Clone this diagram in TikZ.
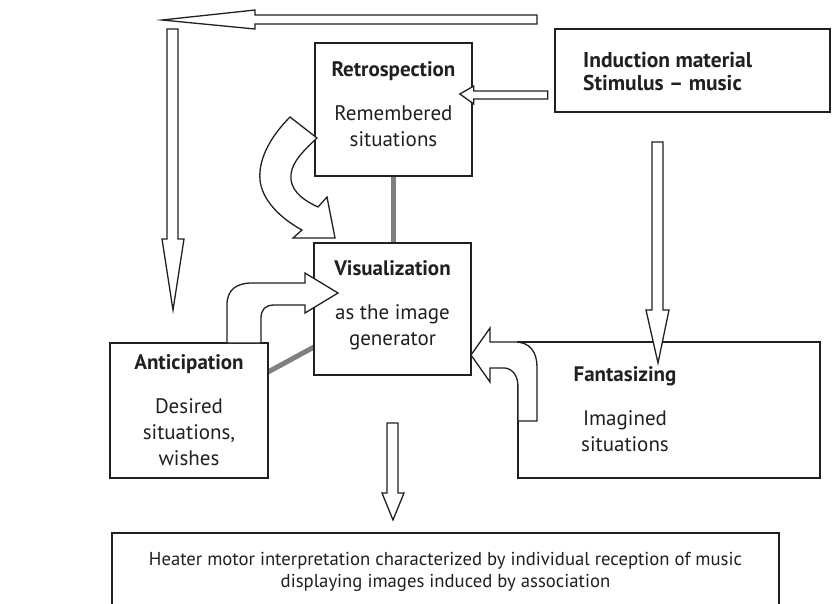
\documentclass[tikz,border=0pt]{standalone}
\usepackage{fontspec}
\setmainfont{PT Sans}
\usetikzlibrary{positioning, calc}
\definecolor{mydark}{RGB}{35,31,32}
\definecolor{mygray}{RGB}{128,128,128}
\tikzset{
  box/.style={rectangle, draw=mydark, fill=white, line width=1.6pt, align=center,
    inner sep=0pt, text=mydark, font=\fontsize{21}{26}\selectfont},
  txt/.style={text=mydark, align=center, inner sep=0pt, font=\fontsize{21}{26}\selectfont},
  blockarrow/.style={draw=mydark, fill=white, line width=1.3pt, line join=miter},
  link/.style={draw=mygray, line width=5pt}
}
\begin{document}
\begin{tikzpicture}[x=1pt, y=-1pt]
  \useasboundingbox (0,0) rectangle (838,603);
  % gray links behind the boxes
  \coordinate (linkA) at (393,176);
  \coordinate (linkB) at (393,243);
  \draw[link] (linkA) -- (linkB);
  \draw[link] (268,372) -- (314,347);
  % Boxes
  \node[box, minimum width=157, minimum height=133, text depth=10pt] (retro) at (393.5,109.5)
    {\textbf{Retrospection}\\[18pt]Remembered\\situations};
  \node[box, minimum width=157, minimum height=132, text depth=11pt] (vis) at (392.5,309)
    {\textbf{Visualization}\\[18pt]as the image\\generator};
  \node[box, minimum width=158, minimum height=135] (antic) at (189,410.5)
    {\textbf{Anticipation}\\[18pt]Desired\\situations,\\wishes};
  \node[box, minimum width=302, minimum height=136] (fan) at (669,410) {};
  \node[txt] (fantxt) at (625,409.5) {\textbf{Fantasizing}\\[18pt]Imagined\\situations};
  \node[box, minimum width=275, minimum height=83] (ind) at (692.5,70.5) {};
  \node[txt, align=left, anchor=west, font=\fontsize{21.5}{23}\selectfont\bfseries] (indtxt) at (583,71.5)
    {Induction material\\Stimulus -- music};
  \node[box, minimum width=667, minimum height=78, font=\fontsize{18.7}{22}\selectfont] (out) at (445.5,572)
    {Heater motor interpretation characterized by individual reception of music\\displaying images induced by association};
  % Induction -> Retrospection
  \draw[blockarrow] ($(retro.east)+(-13,-15.5)$) -- ++(14,-8) -- ++(0,5) -- ++(74,0)
    -- ++(0,8) -- ++(-74,0) -- ++(0,5) -- cycle;
  % long arrow along the top
  \draw[blockarrow] (162,20) -- (255,10) -- (255,15) -- (537,15) -- (537,24) -- (255,24) -- (255,29) -- cycle;
  % down the left side
  \draw[blockarrow] (167,29) -- (178,29) -- (178,239) -- (184,239) -- (173,310) -- (162,239) -- (167,239) -- cycle;
  % Induction down to Fantasizing
  \draw[blockarrow] (652,142) -- (663,142) -- (663,310) -- (669,310) -- (658,363) -- (646,310) -- (652,310) -- cycle;
  % Visualization down to the result
  \draw[blockarrow] (387,423) -- (398,423) -- (398,493) -- (404,493) -- (393,520) -- (382,493) -- (387,493) -- cycle;
  % Retrospection -> Visualization (bent)
  \draw[blockarrow] (290,117) -- (317,138) .. controls (302,152) and (289,165) .. (291,180)
    .. controls (293,193) and (305,201) .. (318,207) -- (327,197) -- (335,238) -- (293,238) -- (302,230)
    .. controls (280,218) and (262,200) .. (260,180) .. controls (258,158) and (272,135) .. (290,117) -- cycle;
  % Anticipation -> Visualization (bent)
  \draw[blockarrow] (227,343) -- (227,305) .. controls (227,290) and (236,283) .. (252,283) -- (305,283)
    -- (305,273) -- (338,293) -- (305,313) -- (305,305) -- (274,305)
    .. controls (265,305) and (261,310) .. (261,318) -- (261,343) -- cycle;
  % Fantasizing -> Visualization (bent)
  \draw[blockarrow] (471,355) -- (490,328) -- (490,342) -- (515,342) .. controls (530,342) and (537,352) .. (537,367)
    -- (537,421) -- (518,421) -- (518,387) .. controls (518,376) and (513,369) .. (505,368)
    -- (490,368) -- (490,382) -- cycle;
\end{tikzpicture}
\end{document}
